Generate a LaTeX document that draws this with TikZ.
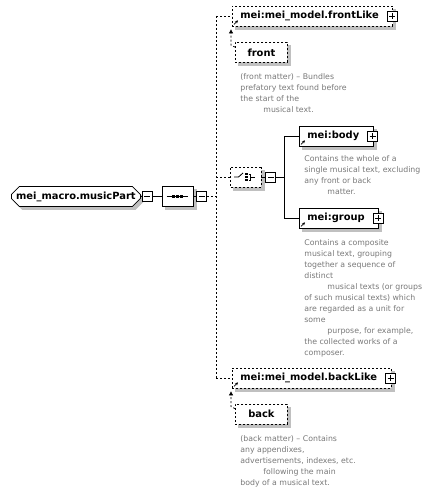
\documentclass[tikz,border=0pt]{standalone}
\usepackage{fontspec}
\setmainfont{DejaVu Sans}
\usetikzlibrary{shapes.misc,shadows,arrows.meta}
\definecolor{descgray}{RGB}{120,120,120}
\definecolor{shadowgray}{RGB}{192,192,192}
\begin{document}
\begin{tikzpicture}[x=1pt,y=-1pt,line width=0.8pt,
  boxshadow/.style={drop shadow={shadow xshift=3pt,shadow yshift=-3pt,fill=shadowgray,draw=shadowgray,solid,opacity=1}},
  elem/.style={draw,fill=white,boxshadow,minimum height=20pt,inner xsep=3pt,inner ysep=0pt,anchor=west,font=\bfseries\fontsize{9.9}{12}\selectfont},
  ref/.style={elem,execute at begin node={\hspace*{5pt}},execute at end node={\hspace*{11pt}}},
  optional/.style={dash pattern=on 2pt off 2pt},
  compositor/.style={chamfered rectangle,chamfered rectangle xsep=4pt,chamfered rectangle ysep=4pt,draw,fill=white,boxshadow,minimum width=31pt,minimum height=20pt,inner sep=0pt},
  pmbox/.style={draw,solid,fill=white,minimum size=10pt,inner sep=0pt},
  minus/.style={pmbox,path picture={\draw ([xshift=2pt]path picture bounding box.west) -- ([xshift=-2pt]path picture bounding box.east);}},
  plus/.style={pmbox,path picture={\draw ([xshift=2pt]path picture bounding box.west) -- ([xshift=-2pt]path picture bounding box.east);
      \draw ([yshift=-2pt]path picture bounding box.north) -- ([yshift=2pt]path picture bounding box.south);}},
  desc/.style={anchor=north west,inner sep=0pt,align=left,text=descgray,font=\fontsize{7.8}{11}\selectfont},
  refarrow/.style={-{Stealth[length=3pt,width=3pt]}}]
        \useasboundingbox (0,0) rectangle (434,492);
        % root and sequence
        \node[compositor,minimum width=129pt,anchor=west,font=\bfseries\fontsize{9.9}{12}\selectfont] (root) at (11,196.5) {mei\_macro.musicPart};
        \node[minus,anchor=west] (rootpm) at ([xshift=1pt]root.east) {};
        \node[compositor] (seq) at (177.5,196.5) {};
        \node[minus,anchor=west] (seqpm) at ([xshift=3pt]seq.east) {};
        \coordinate (spine) at (216,196.5);
        % choice
        \node[compositor,optional] (choice) at (245.5,177) {};
        \node[minus,anchor=west] (choicepm) at ([xshift=4pt]choice.east) {};
        \coordinate (bar) at (284,177);
        % children
        \node[ref,optional] (frontLike) at (232,16) {mei:mei\_model.frontLike};
        \node[plus] (frontLikepm) at ([xshift=-1pt]frontLike.east) {};
        \node[elem,optional,minimum width=52pt] (front) at (235,52.5) {front};
        \node[desc] (frontdesc) at (240,73) {(front matter) – Bundles\\prefatory text found before\\the start of the\\\hspace*{23pt}musical text.};
        \node[ref] (body) at (299,136) {mei:body};
        \node[plus] (bodypm) at ([xshift=-1pt]body.east) {};
        \node[desc] (bodydesc) at (304,155) {Contains the whole of a\\single musical text, excluding\\any front or back\\\hspace*{23pt}matter.};
        \node[ref] (group) at (299,218) {mei:group};
        \node[plus] (grouppm) at ([xshift=-1pt]group.east) {};
        \node[desc] (groupdesc) at (304,239) {Contains a composite\\musical text, grouping\\together a sequence of\\distinct\\\hspace*{23pt}musical texts (or groups\\of such musical texts) which\\are regarded as a unit for\\some\\\hspace*{23pt}purpose, for example,\\the collected works of a\\composer.};
        \node[ref,optional] (backLike) at (232,378) {mei:mei\_model.backLike};
        \node[plus] (backLikepm) at ([xshift=-1pt]backLike.east) {};
        \node[elem,optional,minimum width=52pt] (back) at (235,414) {back};
        \node[desc] (backdesc) at (240,435) {(back matter) – Contains\\any appendixes,\\advertisements, indexes, etc.\\\hspace*{23pt}following the main\\body of a musical text.};
        % connectors
        \draw (root.east) -- (rootpm.west);
        \draw (rootpm.east) -- (seq.west);
        \draw (seq.east) -- (seqpm.west);
        \draw[optional] (seqpm.east) -- (spine);
        \draw[optional] (frontLike.west -| spine) -- (backLike.west -| spine);
        \draw[optional] (frontLike.west -| spine) -- (frontLike.west);
        \draw[optional] (choice.west -| spine) -- (choice.west);
        \draw[optional] (backLike.west -| spine) -- (backLike.west);
        \draw (choice.east) -- (choicepm.west);
        \draw (choicepm.east) -- (bar);
        \draw (body.west -| bar) -- (group.west -| bar);
        \draw (body.west -| bar) -- (body.west);
        \draw (group.west -| bar) -- (group.west);
        \foreach \m/\d in {frontLike/front,backLike/back}
          \draw[optional,-{Triangle[length=4pt,width=4pt]}] ([yshift=-5pt]\d.north west) -- ++(-4,-2) -- ([xshift=-1pt,yshift=-3pt]\m.south west);
        \foreach \n in {frontLike,body,group,backLike}
          \draw[refarrow] ([shift={(2pt,2pt)}]\n.south west) -- ++(4,-4);
        % compositor symbols
        \draw ([xshift=5pt]seq.west) -- ([xshift=-5pt]seq.east);
        \begin{scope}[shift={(seq.center)}]
          \foreach \dx in {-4,0,4}
            \fill (\dx-1.2,-1.2) rectangle +(2.4,2.4);
        \end{scope}
        \begin{scope}[shift={(choice.center)}]
          \draw (-11.5,0) -- (-7,0) -- (-2.5,-4);
          \foreach \dy in {-3,0,3}
            \fill (-0.1,\dy-1.1) rectangle +(2.2,2.2);
          \draw (3.5,-3) -- (5,-3) -- (5,3) -- (3.5,3);
          \draw (5,0) -- (9.5,0);
        \end{scope}
      \end{tikzpicture}
\end{document}
